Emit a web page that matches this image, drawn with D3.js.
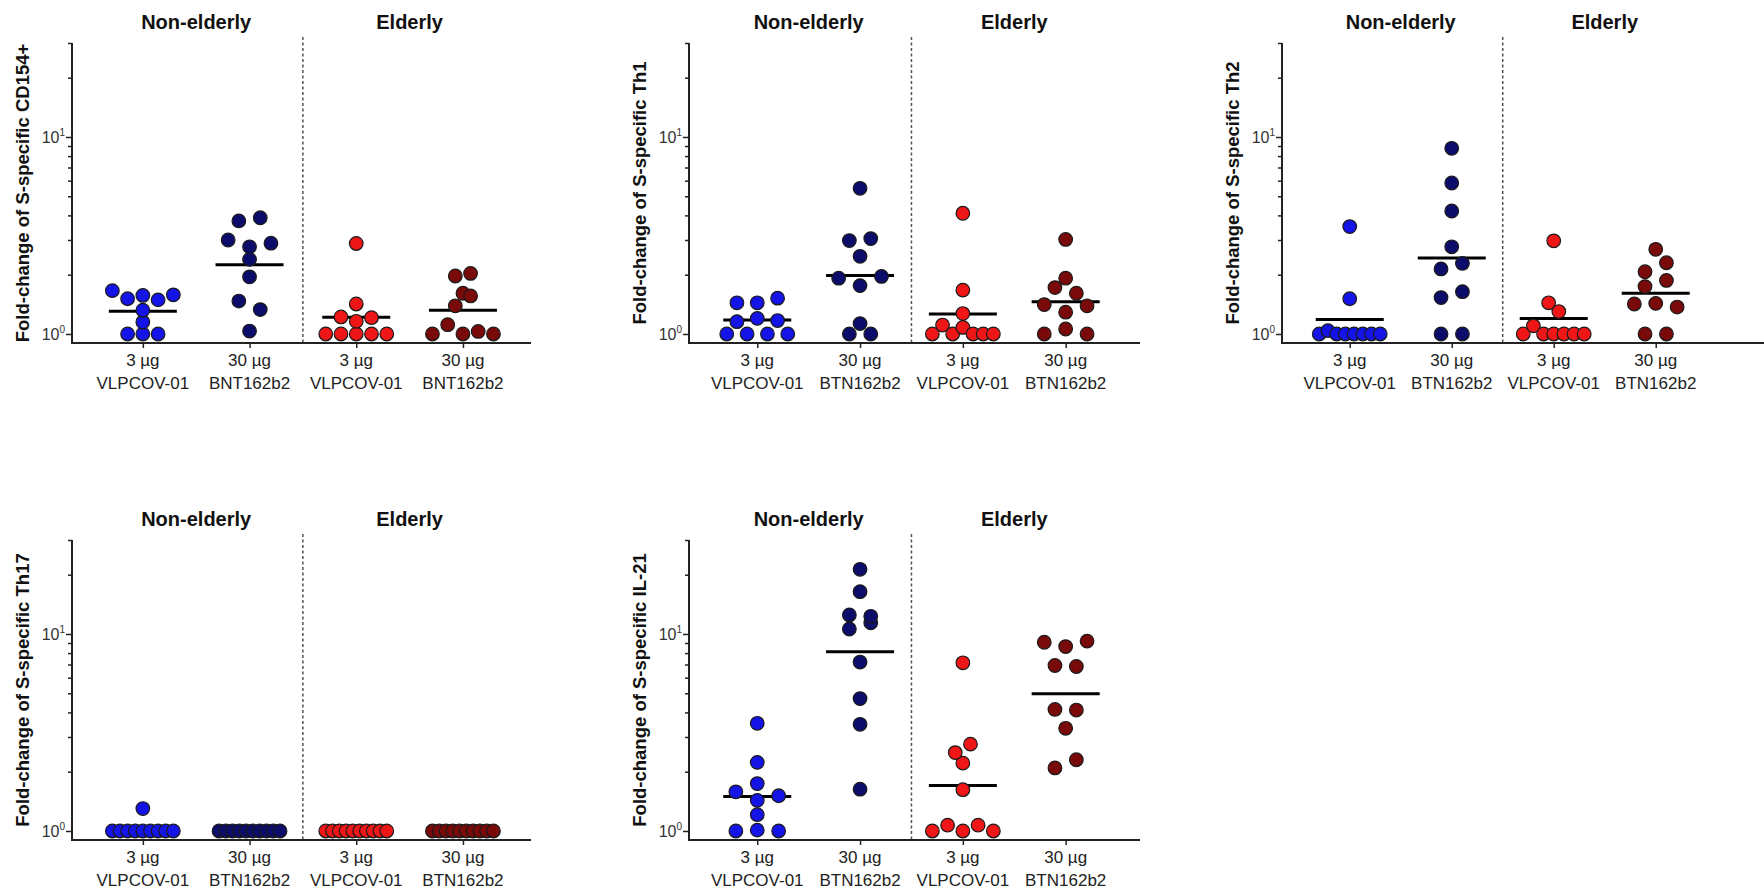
<!DOCTYPE html>
<html>
<head>
<meta charset="utf-8">
<script src="https://cdn.jsdelivr.net/npm/d3@7"></script>
<style>
  html, body { margin: 0; padding: 0; background: #fff; }
  svg { display: block; font-family: "Liberation Sans", Arial, Helvetica, sans-serif; }
</style>
</head>
<body>
<svg id="chart" width="1764" height="891"></svg>
<script>
// ---------------- DATA ----------------
const categories = ["NE3", "NE30", "E3", "E30"];
const doseLabels = ["3 µg", "30 µg", "3 µg", "30 µg"];
const vaccineLabelsCD154 = ["VLPCOV-01", "BNT162b2", "VLPCOV-01", "BNT162b2"];
const vaccineLabels = ["VLPCOV-01", "BTN162b2", "VLPCOV-01", "BTN162b2"];
const facetLabels = ["Non-elderly", "Elderly"];
const groupColors = ["#1414e6", "#0c0c6a", "#ee1616", "#7a0a0a"];
const yTickValues = [1, 2, 3, 4, 5, 6, 7, 8, 9, 10, 20, 30];
const yMajorTicks = [1, 10];

const yTitles = [
  "Fold-change of S-specific CD154+",
  "Fold-change of S-specific Th1",
  "Fold-change of S-specific Th2",
  "Fold-change of S-specific Th17",
  "Fold-change of S-specific IL-21"
];

// one array per group: NE 3µg, NE 30µg, E 3µg, E 30µg
const cd154 = [
  [1.0, 1.0, 1.0, 1.15, 1.32, 1.66, 1.51, 1.57, 1.49, 1.58],
  [1.035, 1.47, 1.33, 1.95, 2.39, 3.0, 2.77, 2.89, 3.75, 3.89],
  [1.0, 1.0, 1.0, 1.0, 1.0, 1.22, 1.16, 1.21, 1.42, 2.88],
  [1.0, 1.115, 1.0, 1.03, 1.0, 1.39, 1.61, 1.56, 1.97, 2.03]
];
const th1 = [
  [1.0, 1.0, 1.0, 1.0, 1.155, 1.2, 1.17, 1.44, 1.44, 1.52],
  [1.0, 1.0, 1.13, 1.92, 1.76, 1.96, 2.48, 2.98, 3.05, 5.49],
  [1.0, 1.11, 1.0, 1.08, 1.0, 1.0, 1.0, 1.27, 1.67, 4.1],
  [1.0, 1.06, 1.0, 1.41, 1.29, 1.39, 1.72, 1.61, 1.92, 3.02]
];
const th2 = [
  [1.0, 1.04, 1.0, 1.0, 1.0, 1.0, 1.0, 1.0, 1.51, 3.51],
  [1.0, 1.0, 1.53, 1.64, 2.14, 2.28, 2.77, 4.21, 5.84, 8.76],
  [1.0, 1.10, 1.0, 1.0, 1.0, 1.0, 1.0, 1.44, 1.30, 2.97],
  [1.0, 1.0, 1.42, 1.43, 1.37, 1.74, 1.87, 2.07, 2.30, 2.69]
];
const th17 = [
  [1.0, 1.0, 1.0, 1.0, 1.0, 1.0, 1.0, 1.0, 1.0, 1.30],
  [1.0, 1.0, 1.0, 1.0, 1.0, 1.0, 1.0, 1.0, 1.0, 1.0],
  [1.0, 1.0, 1.0, 1.0, 1.0, 1.0, 1.0, 1.0, 1.0, 1.0],
  [1.0, 1.0, 1.0, 1.0, 1.0, 1.0, 1.0, 1.0, 1.0, 1.0]
];
const il21 = [
  [1.0, 1.01, 1.0, 1.21, 1.58, 1.43, 1.51, 1.74, 2.23, 3.52],
  [1.63, 3.48, 4.7, 7.2, 10.6, 11.4, 12.5, 12.3, 16.4, 21.3],
  [1.0, 1.07, 1.0, 1.07, 1.0, 1.62, 2.21, 2.50, 2.76, 7.14],
  [2.09, 2.30, 3.32, 4.14, 4.11, 6.92, 6.84, 9.08, 8.63, 9.2]
];

// ---------------- LAYOUT ----------------
const panels = [
  { data: cd154, title: yTitles[0], vac: vaccineLabelsCD154, axisX: 72,   step: 106.7, lineEnd: 531,  top: 43,  bottom: 343 },
  { data: th1,   title: yTitles[1], vac: vaccineLabels,      axisX: 689,  step: 102.8, lineEnd: 1140, top: 43,  bottom: 343 },
  { data: th2,   title: yTitles[2], vac: vaccineLabels,      axisX: 1282, step: 102.0, lineEnd: 1764, top: 43,  bottom: 343 },
  { data: th17,  title: yTitles[3], vac: vaccineLabels,      axisX: 72,   step: 106.7, lineEnd: 531,  top: 540, bottom: 840 },
  { data: il21,  title: yTitles[4], vac: vaccineLabels,      axisX: 689,  step: 102.8, lineEnd: 1140, top: 540, bottom: 840 }
];

const PAD = 0.664;
const svg = d3.select("#chart");
svg.append("rect").attr("width", 1764).attr("height", 891).attr("fill", "#fff");

function swarmOffsets(values, y, sMax = 21.4, span = 61, h = 10) {
  const idx = values.map((v, i) => i).sort((a, b) => (values[a] - values[b]) || (a - b));
  const rows = [];
  let cur = null;
  for (const i of idx) {
    const py = y(values[i]);
    if (cur && cur.y0 - py < h) cur.items.push(i);
    else { cur = { y0: py, items: [i] }; rows.push(cur); }
  }
  const maxN = d3.max(rows, r => r.items.length);
  const s = maxN > 1 ? Math.min(sMax, span / (maxN - 1)) : sMax;
  const off = new Array(values.length);
  rows.forEach(r => {
    r.items.sort((a, b) => a - b);
    const n = r.items.length;
    r.items.forEach((i, k) => { off[i] = (k - (n - 1) / 2) * s; });
  });
  return off;
}

panels.forEach(p => {
  const g = svg.append("g");
  const x = d3.scalePoint().domain(categories)
    .range([p.axisX, p.axisX + p.step * (3 + 2 * PAD)]).padding(PAD);
  const y = d3.scaleLog().domain([0.9, 30]).range([p.bottom, p.top]);

  // facet titles
  const mids = [(x("NE3") + x("NE30")) / 2, (x("E3") + x("E30")) / 2];
  facetLabels.forEach((lab, i) => {
    g.append("text").attr("x", mids[i]).attr("y", p.top - 14)
      .attr("text-anchor", "middle").attr("font-size", 20).attr("font-weight", "bold")
      .attr("fill", "#111").text(lab);
  });

  // dashed separator
  const sepX = (x("NE30") + x("E3")) / 2;
  g.append("line").attr("x1", sepX).attr("x2", sepX)
    .attr("y1", p.top - 6).attr("y2", p.bottom)
    .attr("stroke", "#555").attr("stroke-width", 1.5).attr("stroke-dasharray", "3,2.5");

  // y axis
  const yAxis = d3.axisLeft(y).tickValues(yTickValues).tickFormat("").tickSize(4).tickSizeOuter(0);
  const ya = g.append("g").attr("transform", `translate(${p.axisX},0)`).call(yAxis);
  ya.select(".domain").remove();
  ya.selectAll(".tick line").attr("stroke", "#222").attr("stroke-width", 1.5)
    .attr("x2", d => yMajorTicks.includes(d) ? -6 : -4);
  g.append("line").attr("x1", p.axisX).attr("x2", p.axisX)
    .attr("y1", p.top).attr("y2", p.bottom + 1)
    .attr("stroke", "#222").attr("stroke-width", 2);
  yMajorTicks.forEach((v, i) => {
    const t = g.append("text").attr("x", p.axisX - 7).attr("y", y(v) + 6)
      .attr("text-anchor", "end").attr("font-size", 16).attr("fill", "#333");
    t.append("tspan").text("10");
    t.append("tspan").attr("dy", -7).attr("font-size", 10).text(String(Math.round(Math.log10(v))));
  });

  // y title
  g.append("text")
    .attr("transform", `translate(${p.axisX - 43},${(p.top + p.bottom) / 2}) rotate(-90)`)
    .attr("text-anchor", "middle").attr("font-size", 18.5).attr("font-weight", "bold")
    .attr("fill", "#111").text(p.title);

  // x axis
  g.append("line").attr("x1", p.axisX - 1).attr("x2", p.lineEnd)
    .attr("y1", p.bottom).attr("y2", p.bottom)
    .attr("stroke", "#222").attr("stroke-width", 2);
  const xAxis = d3.axisBottom(x).tickSize(5).tickFormat("").tickSizeOuter(0);
  const xa = g.append("g").attr("transform", `translate(0,${p.bottom})`).call(xAxis);
  xa.select(".domain").remove();
  xa.selectAll(".tick line").attr("stroke", "#222").attr("stroke-width", 1.5);
  categories.forEach((c, i) => {
    g.append("text").attr("x", x(c)).attr("y", p.bottom + 23)
      .attr("text-anchor", "middle").attr("font-size", 17).attr("fill", "#222").text(doseLabels[i]);
    g.append("text").attr("x", x(c)).attr("y", p.bottom + 46)
      .attr("text-anchor", "middle").attr("font-size", 17).attr("fill", "#222").text(p.vac[i]);
  });

  // geometric mean lines (under points)
  p.data.forEach((vals, gi) => {
    const gm = Math.pow(10, d3.mean(vals, v => Math.log10(v)));
    const cx = x(categories[gi]);
    g.append("line").attr("x1", cx - 34).attr("x2", cx + 34)
      .attr("y1", y(gm)).attr("y2", y(gm))
      .attr("stroke", "#000").attr("stroke-width", 3);
  });

  // points
  p.data.forEach((vals, gi) => {
    const off = swarmOffsets(vals, y);
    const cx = x(categories[gi]);
    g.append("g").selectAll("circle").data(vals).join("circle")
      .attr("cx", (d, i) => cx + off[i])
      .attr("cy", d => y(d))
      .attr("r", 6.8)
      .attr("fill", groupColors[gi])
      .attr("stroke", "#1a1a1a")
      .attr("stroke-width", 1.2);
  });
});
</script>
</body>
</html>
